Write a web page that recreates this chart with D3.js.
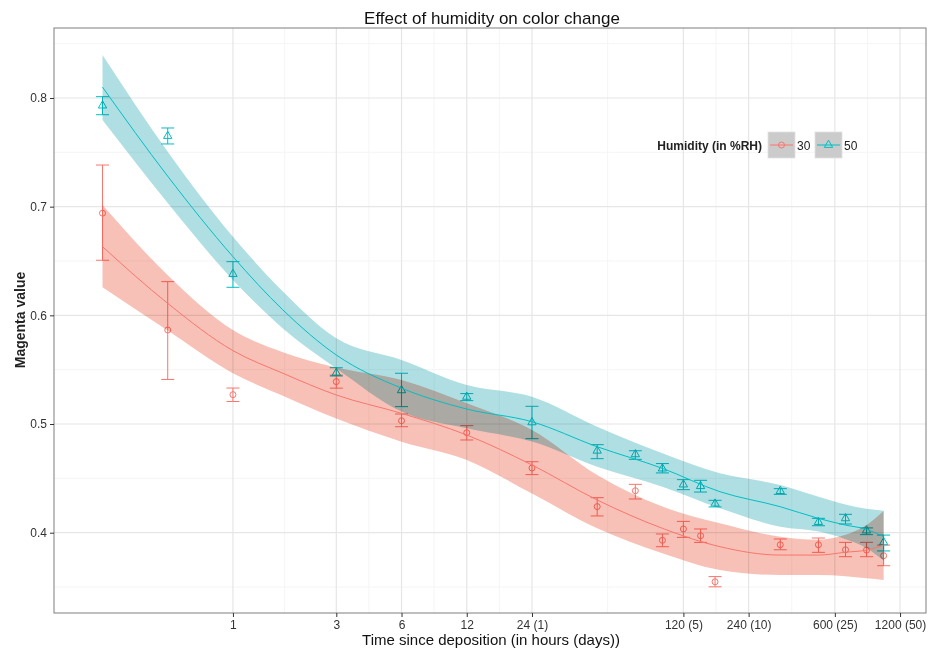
<!DOCTYPE html>
<html>
<head>
<meta charset="utf-8">
<script src="https://cdn.jsdelivr.net/npm/d3@7"></script>
<style>
  html, body { margin: 0; padding: 0; background: #fff; }
  svg { display: block; font-family: "Liberation Sans", Arial, sans-serif; }
</style>
</head>
<body>
<svg id="chart" width="928" height="651"></svg>
<script>
// ---------- data ----------
const hours = [0.25, 0.5, 1, 3, 6, 12, 24, 48, 72, 96, 120, 144, 168, 336, 504, 672, 840, 1008];

const mean30 = [0.694, 0.5865, 0.527, 0.539, 0.503, 0.492, 0.4595, 0.424, 0.4386, 0.393, 0.4034, 0.3972, 0.3548, 0.3889, 0.3889, 0.3843, 0.384, 0.3788];
const low30  = [0.6507, 0.541, 0.5207, 0.533, 0.4975, 0.4853, 0.4534, 0.4154, 0.431, 0.3871, 0.3957, 0.3911, 0.3502, 0.3843, 0.3819, 0.3779, 0.3779, 0.3696];
const high30 = [0.7383, 0.631, 0.5331, 0.545, 0.5092, 0.4985, 0.4653, 0.4322, 0.4445, 0.3988, 0.4104, 0.4034, 0.3596, 0.3942, 0.3951, 0.3911, 0.3911, 0.3886];

const mean50 = [0.793, 0.765, 0.638, 0.547, 0.531, 0.525, 0.5015, 0.4754, 0.4721, 0.459, 0.4443, 0.4428, 0.4267, 0.4383, 0.4098, 0.4132, 0.402, 0.3911];
const low50  = [0.7846, 0.7577, 0.6258, 0.5442, 0.516, 0.5215, 0.4865, 0.4681, 0.4675, 0.455, 0.4396, 0.4374, 0.4237, 0.4353, 0.4064, 0.408, 0.3982, 0.3832];
const high50 = [0.8012, 0.7724, 0.6494, 0.5518, 0.5467, 0.528, 0.5163, 0.481, 0.4754, 0.4636, 0.4488, 0.4482, 0.4298, 0.4405, 0.4132, 0.4169, 0.4044, 0.3978];

// smoothed fits
const smoothHours = [0.25, 0.5, 1, 1.7, 3, 6, 12, 24, 48, 96, 177, 336, 504, 672, 840, 1008];
const fit30   = [0.6632, 0.611, 0.5675, 0.5467, 0.5267, 0.5098, 0.4899, 0.4623, 0.4301, 0.404, 0.3871, 0.3794, 0.3794, 0.382, 0.384, 0.3886];
const upper30 = [0.7015, 0.637, 0.5865, 0.566, 0.552, 0.5405, 0.519, 0.4945, 0.4531, 0.424, 0.4086, 0.3963, 0.3935, 0.398, 0.407, 0.420];
const lower30 = [0.6258, 0.586, 0.5467, 0.526, 0.505, 0.4837, 0.4669, 0.436, 0.404, 0.381, 0.3656, 0.361, 0.361, 0.360, 0.358, 0.3564];

const fit50   = [0.810, 0.728, 0.654, 0.605, 0.5635, 0.533, 0.5138, 0.5021, 0.4791, 0.4592, 0.4377, 0.4239, 0.4132, 0.407, 0.4031, 0.3963];
const upper50 = [0.8396, 0.7506, 0.6724, 0.622, 0.5789, 0.559, 0.5359, 0.5251, 0.4975, 0.473, 0.4546, 0.4439, 0.4331, 0.426, 0.422, 0.4202];
const lower50 = [0.7798, 0.7034, 0.6325, 0.588, 0.5513, 0.5114, 0.496, 0.4838, 0.4607, 0.4423, 0.4224, 0.4055, 0.401, 0.394, 0.386, 0.3743];

const xTicks = [1, 3, 6, 12, 24, 120, 240, 600, 1200];
const xTickLabels = ["1", "3", "6", "12", "24 (1)", "120 (5)", "240 (10)", "600 (25)", "1200 (50)"];
const yTicks = [0.4, 0.5, 0.6, 0.7, 0.8];
const yTickLabels = ["0.4", "0.5", "0.6", "0.7", "0.8"];
const yMinor = [0.35, 0.45, 0.55, 0.65, 0.75, 0.85];

const groups = ["30", "50"];
const colors = ["#F8766D", "#00BFC4"];
const ribbonColors = ["#F8C1B7", "#B0DFE3"];

// ---------- layout ----------
const svg = d3.select("#chart");
const W = 928, H = 651;
const panel = { left: 54, right: 926, top: 28, bottom: 613 };

svg.append("rect").attr("width", W).attr("height", H).attr("fill", "#fff");

const x = d3.scaleLog().domain([0.1493, 1581]).range([panel.left, panel.right]);
const y = d3.scaleLinear().domain([0.3261, 0.8644]).range([panel.bottom, panel.top]);

const g = svg.append("g");

// minor x gridlines: geometric means between consecutive major ticks
const xMinor = d3.pairs(xTicks).map(([a, b]) => Math.sqrt(a * b));

g.selectAll(".ymin").data(yMinor).join("line")
  .attr("x1", panel.left).attr("x2", panel.right)
  .attr("y1", d => y(d)).attr("y2", d => y(d))
  .attr("stroke", "#f5f5f5").attr("stroke-width", 1);
g.selectAll(".xmin").data(xMinor).join("line")
  .attr("y1", panel.top).attr("y2", panel.bottom)
  .attr("x1", d => x(d)).attr("x2", d => x(d))
  .attr("stroke", "#f5f5f5").attr("stroke-width", 1);
g.selectAll(".ymaj").data(yTicks).join("line")
  .attr("x1", panel.left).attr("x2", panel.right)
  .attr("y1", d => y(d)).attr("y2", d => y(d))
  .attr("stroke", "#e6e6e6").attr("stroke-width", 1.2);
g.selectAll(".xmaj").data(xTicks).join("line")
  .attr("y1", panel.top).attr("y2", panel.bottom)
  .attr("x1", d => x(d)).attr("x2", d => x(d))
  .attr("stroke", "#e6e6e6").attr("stroke-width", 1.2);

// ---------- series ----------
const series = [
  { name: "30", color: colors[0], rib: ribbonColors[0], mean: mean30, lo: low30, hi: high30, fit: fit30, up: upper30, dn: lower30, shape: "circle" },
  { name: "50", color: colors[1], rib: ribbonColors[1], mean: mean50, lo: low50, hi: high50, fit: fit50, up: upper50, dn: lower50, shape: "triangle" }
];

const capHalf = 6.5;
const triSym = d3.symbol().type(d3.symbolTriangle).size(30);

series.forEach(s => {
  const sg = g.append("g");
  hours.forEach((h, i) => {
    const cx = x(h);
    sg.append("line").attr("x1", cx).attr("x2", cx)
      .attr("y1", y(s.lo[i])).attr("y2", y(s.hi[i]))
      .attr("stroke", s.color).attr("stroke-width", 1);
    [s.lo[i], s.hi[i]].forEach(v => {
      sg.append("line").attr("x1", cx - capHalf).attr("x2", cx + capHalf)
        .attr("y1", y(v)).attr("y2", y(v))
        .attr("stroke", s.color).attr("stroke-width", 1);
    });
    if (s.shape === "circle") {
      sg.append("circle").attr("cx", cx).attr("cy", y(s.mean[i])).attr("r", 3)
        .attr("fill", "none").attr("stroke", s.color).attr("stroke-width", 1);
    } else {
      sg.append("path").attr("d", triSym)
        .attr("transform", `translate(${cx},${y(s.mean[i])})`)
        .attr("fill", "none").attr("stroke", s.color).attr("stroke-width", 1);
    }
  });
});

// ribbons (multiplied so overlap turns grey)
const area = d3.area().curve(d3.curveMonotoneX)
  .x(d => x(d.h)).y0(d => y(d.dn)).y1(d => y(d.up));
const line = d3.line().curve(d3.curveMonotoneX)
  .x(d => x(d.h)).y(d => y(d.v));

series.forEach(s => {
  const pts = smoothHours.map((h, i) => ({ h, up: s.up[i], dn: s.dn[i] }));
  g.append("path").attr("d", area(pts))
    .attr("fill", s.rib).style("mix-blend-mode", "multiply");
});
series.forEach(s => {
  const pts = smoothHours.map((h, i) => ({ h, v: s.fit[i] }));
  g.append("path").attr("d", line(pts))
    .attr("fill", "none").attr("stroke", s.color).attr("stroke-width", 1);
});

// ---------- panel border & axes ----------
g.append("rect")
  .attr("x", panel.left).attr("y", panel.top)
  .attr("width", panel.right - panel.left).attr("height", panel.bottom - panel.top)
  .attr("fill", "none").attr("stroke", "#7f7f7f").attr("stroke-width", 1);

const xAxis = d3.axisBottom(x).tickValues(xTicks)
  .tickFormat((d, i) => xTickLabels[i]).tickSize(4).tickPadding(3);
const xa = svg.append("g").attr("transform", `translate(0,${panel.bottom})`).call(xAxis);
xa.select(".domain").remove();
xa.selectAll(".tick line").attr("stroke", "#333");
xa.selectAll(".tick text").attr("fill", "#333").style("font-size", "12px")
  .style("font-family", "'Liberation Sans', Arial, sans-serif");

const yAxis = d3.axisLeft(y).tickValues(yTicks)
  .tickFormat((d, i) => yTickLabels[i]).tickSize(4).tickPadding(3);
const ya = svg.append("g").attr("transform", `translate(${panel.left},0)`).call(yAxis);
ya.select(".domain").remove();
ya.selectAll(".tick line").attr("stroke", "#333");
ya.selectAll(".tick text").attr("fill", "#333").style("font-size", "12px")
  .style("font-family", "'Liberation Sans', Arial, sans-serif");

// ---------- titles ----------
svg.append("text").attr("x", 492).attr("y", 24).attr("text-anchor", "middle")
  .style("font-size", "17px").attr("fill", "#111")
  .text("Effect of humidity on color change");
svg.append("text").attr("x", 491).attr("y", 645).attr("text-anchor", "middle")
  .style("font-size", "15px").attr("fill", "#111")
  .text("Time since deposition (in hours (days))");
svg.append("text").attr("transform", "translate(25,320) rotate(-90)")
  .attr("text-anchor", "middle").style("font-size", "14px").style("font-weight", "bold")
  .attr("fill", "#222").text("Magenta value");

// ---------- legend ----------
const lg = svg.append("g");
lg.append("text").attr("x", 762).attr("y", 150).attr("text-anchor", "end")
  .style("font-size", "12px").style("font-weight", "bold").attr("fill", "#222")
  .text("Humidity (in %RH)");
const keyX = [768, 815];
series.forEach((s, i) => {
  const kx = keyX[i];
  lg.append("rect").attr("x", kx).attr("y", 132).attr("width", 27).attr("height", 26)
    .attr("fill", "#cbcbcb").attr("stroke", "#e0e0e0").attr("stroke-width", 0.8);
  lg.append("line").attr("x1", kx + 2).attr("x2", kx + 25).attr("y1", 145).attr("y2", 145)
    .attr("stroke", s.color).attr("stroke-width", 1);
  if (s.shape === "circle") {
    lg.append("circle").attr("cx", kx + 13.5).attr("cy", 145).attr("r", 3)
      .attr("fill", "none").attr("stroke", s.color);
  } else {
    lg.append("path").attr("d", triSym).attr("transform", `translate(${kx + 13.5},145)`)
      .attr("fill", "none").attr("stroke", s.color);
  }
  lg.append("text").attr("x", kx + 29).attr("y", 150)
    .style("font-size", "12px").attr("fill", "#222").text(groups[i]);
});
</script>
</body>
</html>
